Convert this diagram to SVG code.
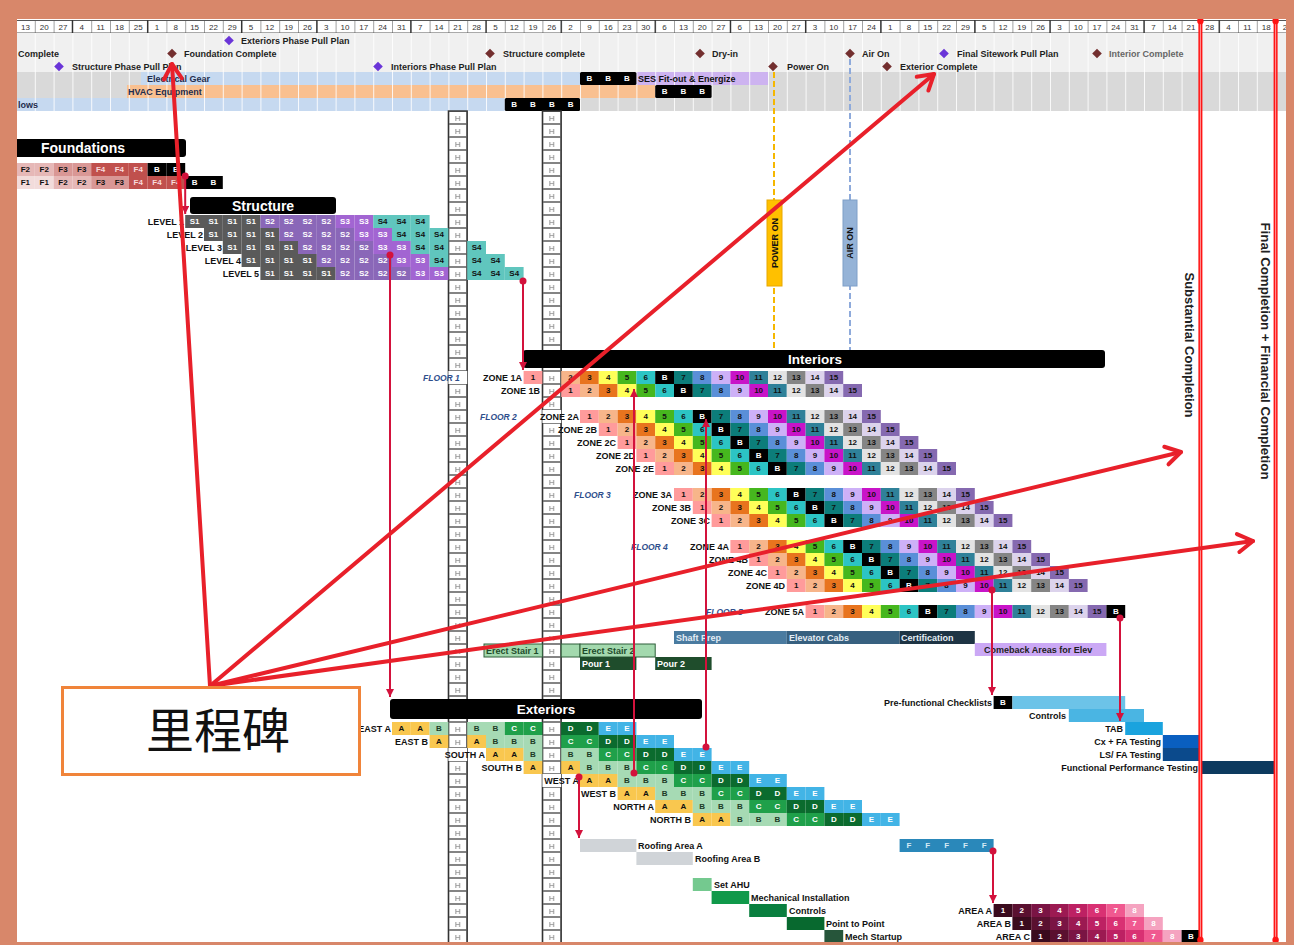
<svg xmlns="http://www.w3.org/2000/svg" width="1294" height="945" viewBox="0 0 1294 945">
<style>
text{font-family:"Liberation Sans",Arial,sans-serif;font-weight:bold}
.ct{font-size:8px;text-anchor:middle;fill:#111}
.cw{font-size:8px;text-anchor:middle;fill:#fff}
.lb{font-size:9px;text-anchor:end;fill:#111}
.ls{font-size:9px;fill:#111}
.ms{font-size:9px;fill:#1e1e1e}
.dt{font-size:8px;font-weight:normal;text-anchor:middle;fill:#333}
.fl{font-size:8.5px;font-style:italic;fill:#2E4E8C}
.bt{font-size:13.5px;fill:#fff;text-anchor:middle}
.dep{stroke:#D3123C;stroke-width:2;fill:none}
.big{stroke:#E8202A;stroke-width:4;fill:none;stroke-linecap:round}
.dot{fill:#D3123C}
.ht{font-size:7.5px;font-weight:normal;text-anchor:middle;fill:#666}
</style>
<defs>
<pattern id="vs" width="18.8" height="10" patternUnits="userSpaceOnUse" x="16" y="0"><rect width="1" height="10" fill="#fff" fill-opacity="0.85"/></pattern>
<pattern id="dg" width="18.8" height="13" patternUnits="userSpaceOnUse" x="16" y="20"><rect width="0.8" height="13" fill="#8a8a8a"/></pattern>
<pattern id="hp" width="18.8" height="13" patternUnits="userSpaceOnUse" x="448.4" y="111"><rect x="0.5" y="0.5" width="17.8" height="12" fill="#fff" stroke="#777" stroke-width="0.9"/><text class="ht" x="9.4" y="9.6">H</text></pattern>
<path id="dm" d="M0,-4.8L4.8,0L0,4.8L-4.8,0Z"/>
<marker id="da" viewBox="0 0 10 10" refX="10" refY="5" markerWidth="8" markerHeight="8" markerUnits="userSpaceOnUse" orient="auto"><path d="M0,0L10,5L0,10Z" fill="#D3123C"/></marker>
<marker id="ah" viewBox="0 0 24 24" refX="20" refY="12" markerWidth="24" markerHeight="24" markerUnits="userSpaceOnUse" orient="auto"><path d="M5,3L20,12L5,21" fill="none" stroke="#E8202A" stroke-width="4" stroke-linecap="round" stroke-linejoin="round"/></marker>
<g id="i1"><rect width="18.8" height="13" fill="#FF9B9B"/><text class="ct" x="9.4" y="9.4">1</text></g>
<g id="i2"><rect width="18.8" height="13" fill="#F7B58A"/><text class="ct" x="9.4" y="9.4">2</text></g>
<g id="i3"><rect width="18.8" height="13" fill="#E8741E"/><text class="ct" x="9.4" y="9.4">3</text></g>
<g id="i4"><rect width="18.8" height="13" fill="#FFFF59"/><text class="ct" x="9.4" y="9.4">4</text></g>
<g id="i5"><rect width="18.8" height="13" fill="#46B71E"/><text class="ct" x="9.4" y="9.4">5</text></g>
<g id="i6"><rect width="18.8" height="13" fill="#2CC4C4"/><text class="ct" x="9.4" y="9.4">6</text></g>
<g id="iB"><rect width="18.8" height="13" fill="#000"/><text class="cw" x="9.4" y="9.4">B</text></g>
<g id="i7"><rect width="18.8" height="13" fill="#0C7D7A"/><text class="ct" x="9.4" y="9.4">7</text></g>
<g id="i8"><rect width="18.8" height="13" fill="#5A8FD8"/><text class="ct" x="9.4" y="9.4">8</text></g>
<g id="i9"><rect width="18.8" height="13" fill="#CDB0F7"/><text class="ct" x="9.4" y="9.4">9</text></g>
<g id="i10"><rect width="18.8" height="13" fill="#C814C8"/><text class="ct" x="9.4" y="9.4">10</text></g>
<g id="i11"><rect width="18.8" height="13" fill="#2F8199"/><text class="ct" x="9.4" y="9.4">11</text></g>
<g id="i12"><rect width="18.8" height="13" fill="#E3E3E3"/><text class="ct" x="9.4" y="9.4">12</text></g>
<g id="i13"><rect width="18.8" height="13" fill="#858585"/><text class="ct" x="9.4" y="9.4">13</text></g>
<g id="i14"><rect width="18.8" height="13" fill="#DCD3EC"/><text class="ct" x="9.4" y="9.4">14</text></g>
<g id="i15"><rect width="18.8" height="13" fill="#8569B0"/><text class="ct" x="9.4" y="9.4">15</text></g>
<g id="iq2">
<use href="#i2"/><use href="#i3" x="18.8"/><use href="#i4" x="37.6"/><use href="#i5" x="56.4"/><use href="#i6" x="75.2"/><use href="#iB" x="94"/><use href="#i7" x="112.8"/><use href="#i8" x="131.6"/><use href="#i9" x="150.4"/><use href="#i10" x="169.2"/><use href="#i11" x="188"/><use href="#i12" x="206.8"/><use href="#i13" x="225.6"/><use href="#i14" x="244.4"/><use href="#i15" x="263.2"/>
</g>
<g id="iq"><use href="#i1"/><use href="#iq2" x="18.8"/></g>
<g id="s1"><rect width="18.8" height="13" fill="#5A5A5A"/><text class="cw" x="9.4" y="9.4">S1</text></g>
<g id="s2"><rect width="18.8" height="13" fill="#8A67B8"/><text class="cw" x="9.4" y="9.4">S2</text></g>
<g id="s3"><rect width="18.8" height="13" fill="#A265D2"/><text class="cw" x="9.4" y="9.4">S3</text></g>
<g id="s4"><rect width="18.8" height="13" fill="#60C6BE"/><text class="ct" x="9.4" y="9.4">S4</text></g>
<g id="s1r"><use href="#s1"/><use href="#s1" x="18.8"/><use href="#s1" x="37.6"/><use href="#s1" x="56.4"/></g>
<g id="s2r"><use href="#s2"/><use href="#s2" x="18.8"/><use href="#s2" x="37.6"/><use href="#s2" x="56.4"/></g>
<g id="s3r"><use href="#s3"/><use href="#s3" x="18.8"/></g>
<g id="f1"><rect width="18.8" height="13" fill="#F2DCDB"/><text class="ct" x="9.4" y="9.4">F1</text></g>
<g id="f2"><rect width="18.8" height="13" fill="#E6B8B7"/><text class="ct" x="9.4" y="9.4">F2</text></g>
<g id="f3"><rect width="18.8" height="13" fill="#D99795"/><text class="ct" x="9.4" y="9.4">F3</text></g>
<g id="f4"><rect width="18.8" height="13" fill="#C0504D"/><text class="ct" x="9.4" y="9.4" style="fill:#F8DADA">F4</text></g>
<g id="fB"><rect width="18.8" height="13" fill="#000"/><text class="cw" x="9.4" y="9.4">B</text></g>
<g id="xa"><rect width="18.8" height="13" fill="#F9C74F"/><text class="ct" x="9.4" y="9.4">A</text></g>
<g id="xb"><rect width="18.8" height="13" fill="#A6DAB4"/><text class="ct" x="9.4" y="9.4" style="fill:#1d3b26">B</text></g>
<g id="xc"><rect width="18.8" height="13" fill="#1FA04A"/><text class="cw" x="9.4" y="9.4">C</text></g>
<g id="xd"><rect width="18.8" height="13" fill="#0B6B2E"/><text class="cw" x="9.4" y="9.4">D</text></g>
<g id="xe"><rect width="18.8" height="13" fill="#42B4E6"/><text class="cw" x="9.4" y="9.4">E</text></g>
<g id="xq"><use href="#xa"/><use href="#xa" x="18.8"/><use href="#xb" x="37.6"/><use href="#xb" x="56.4"/><use href="#xb" x="75.2"/><use href="#xc" x="94"/><use href="#xc" x="112.8"/><use href="#xd" x="131.6"/><use href="#xd" x="150.4"/><use href="#xe" x="169.2"/><use href="#xe" x="188"/></g>
<g id="aq">
<rect width="18.8" height="13" fill="#3A0B1E"/><rect x="18.8" width="18.8" height="13" fill="#5A1030"/><rect x="37.6" width="18.8" height="13" fill="#7A1444"/><rect x="56.4" width="18.8" height="13" fill="#9C1A52"/><rect x="75.2" width="18.8" height="13" fill="#BD2163"/><rect x="94" width="18.8" height="13" fill="#D93173"/><rect x="112.8" width="18.8" height="13" fill="#F05990"/><rect x="131.6" width="18.8" height="13" fill="#F5A3C0"/>
<text class="cw" y="9.4"><tspan x="9.4">1</tspan><tspan x="28.2">2</tspan><tspan x="47">3</tspan><tspan x="65.8">4</tspan><tspan x="84.6">5</tspan><tspan x="103.4">6</tspan><tspan x="122.2">7</tspan><tspan x="141">8</tspan></text>
</g>
</defs>

<rect width="1294" height="945" fill="#fff"/>

<g id="timeline-header">
<rect x="16" y="20" width="1270" height="13" fill="#fff"/>
<rect x="16" y="20" width="1270" height="13" fill="url(#dg)"/>
<path d="M16,20.5H1286M16,33H1286" stroke="#555" stroke-width="1"/>
<path d="M72.4,20V33M147.6,20V33M241.6,20V33M316.8,20V33M410.8,20V33M486,20V33M561.2,20V33M655.2,20V33M730.4,20V33M805.6,20V33M880.8,20V33M974.8,20V33M1050,20V33M1144,20V33M1219.2,20V33M1275.6,20V33" stroke="#333" stroke-width="1.3"/>
<text class="dt" y="30"><tspan x="25.4">13</tspan><tspan x="44.2">20</tspan><tspan x="63">27</tspan><tspan x="81.8">4</tspan><tspan x="100.6">11</tspan><tspan x="119.4">18</tspan><tspan x="138.2">25</tspan><tspan x="157">1</tspan><tspan x="175.8">8</tspan><tspan x="194.6">15</tspan><tspan x="213.4">22</tspan><tspan x="232.2">29</tspan><tspan x="251">5</tspan><tspan x="269.8">12</tspan><tspan x="288.6">19</tspan><tspan x="307.4">26</tspan><tspan x="326.2">3</tspan><tspan x="345">10</tspan><tspan x="363.8">17</tspan><tspan x="382.6">24</tspan><tspan x="401.4">31</tspan><tspan x="420.2">7</tspan><tspan x="439">14</tspan><tspan x="457.8">21</tspan><tspan x="476.6">28</tspan><tspan x="495.4">5</tspan><tspan x="514.2">12</tspan><tspan x="533">19</tspan><tspan x="551.8">26</tspan><tspan x="570.6">2</tspan><tspan x="589.4">9</tspan><tspan x="608.2">16</tspan><tspan x="627">23</tspan><tspan x="645.8">30</tspan><tspan x="664.6">6</tspan><tspan x="683.4">13</tspan><tspan x="702.2">20</tspan><tspan x="721">27</tspan><tspan x="739.8">6</tspan><tspan x="758.6">13</tspan><tspan x="777.4">20</tspan><tspan x="796.2">27</tspan><tspan x="815">3</tspan><tspan x="833.8">10</tspan><tspan x="852.6">17</tspan><tspan x="871.4">24</tspan><tspan x="890.2">1</tspan><tspan x="909">8</tspan><tspan x="927.8">15</tspan><tspan x="946.6">22</tspan><tspan x="965.4">29</tspan><tspan x="984.2">5</tspan><tspan x="1003">12</tspan><tspan x="1021.8">19</tspan><tspan x="1040.6">26</tspan><tspan x="1059.4">3</tspan><tspan x="1078.2">10</tspan><tspan x="1097">17</tspan><tspan x="1115.8">24</tspan><tspan x="1134.6">31</tspan><tspan x="1153.4">7</tspan><tspan x="1172.2">14</tspan><tspan x="1191">21</tspan><tspan x="1209.8">28</tspan><tspan x="1228.6">4</tspan><tspan x="1247.4">11</tspan><tspan x="1266.2">18</tspan><tspan x="1285">2</tspan></text>
<rect x="16" y="33" width="1270" height="39" fill="#F0F0F0"/>
<rect x="16" y="72" width="1270" height="39" fill="#D9D9D9"/>
<rect x="141" y="72" width="439" height="13" fill="#C6D9F0"/>
<rect x="636.4" y="72" width="132" height="13" fill="#CDB3F0"/>
<rect x="127" y="85" width="528.2" height="13" fill="#F9C090"/>
<rect x="16" y="98" width="488.8" height="13" fill="#C6D9F0"/>
<rect x="16" y="33" width="1270" height="78" fill="url(#vs)"/>
</g>

<g id="equipment-rows">
<text class="ls" x="147" y="82" style="fill:#1F2D4D">Electrical Gear</text>
<text class="ls" x="128" y="95" style="fill:#1F2D4D">HVAC Equipment</text>
<text class="ls" x="18" y="108" style="fill:#1F2D4D">lows</text>
<text class="ls" x="638" y="82">SES Fit-out &amp; Energize</text>
<rect x="580" y="72" width="56.4" height="13" rx="1.5" fill="#000"/>
<text class="cw" y="81.4"><tspan x="589.4">B</tspan><tspan x="608.2">B</tspan><tspan x="627">B</tspan></text>
<rect x="655.2" y="85" width="56.4" height="13" rx="1.5" fill="#000"/>
<text class="cw" y="94.4"><tspan x="664.6">B</tspan><tspan x="683.4">B</tspan><tspan x="702.2">B</tspan></text>
<rect x="504.8" y="98" width="75.2" height="13" rx="1.5" fill="#000"/>
<text class="cw" y="107.4"><tspan x="514.2">B</tspan><tspan x="533">B</tspan><tspan x="551.8">B</tspan><tspan x="570.6">B</tspan></text>
</g>

<g id="milestones">
<use href="#dm" x="229" y="40.5" fill="#6A35D8"/><text class="ms" x="241" y="44">Exteriors Phase Pull Plan</text>
<text class="ms" x="18" y="57">Complete</text>
<use href="#dm" x="172" y="53.5" fill="#732F2F"/><text class="ms" x="184" y="57">Foundation Complete</text>
<use href="#dm" x="490" y="53.5" fill="#732F2F"/><text class="ms" x="503" y="57">Structure complete</text>
<use href="#dm" x="700" y="53.5" fill="#732F2F"/><text class="ms" x="712" y="57">Dry-in</text>
<use href="#dm" x="850" y="53.5" fill="#732F2F"/><text class="ms" x="862" y="57">Air On</text>
<use href="#dm" x="944" y="53.5" fill="#6A35D8"/><text class="ms" x="957" y="57">Final Sitework Pull Plan</text>
<use href="#dm" x="1097" y="53.5" fill="#732F2F"/><text class="ms" x="1109" y="57" style="fill:#666">Interior Complete</text>
<use href="#dm" x="59" y="66.5" fill="#6A35D8"/><text class="ms" x="72" y="70">Structure Phase Pull Plan</text>
<use href="#dm" x="378" y="66.5" fill="#6A35D8"/><text class="ms" x="391" y="70">Interiors Phase Pull Plan</text>
<use href="#dm" x="773" y="66.5" fill="#732F2F"/><text class="ms" x="787" y="70">Power On</text>
<use href="#dm" x="887" y="66.5" fill="#732F2F"/><text class="ms" x="900" y="70">Exterior Complete</text>
</g>

<g id="hold-columns">
<rect x="448.4" y="111" width="18.8" height="832" fill="url(#hp)" stroke="#333" stroke-width="1.4"/>
<rect x="542.4" y="111" width="18.8" height="832" fill="url(#hp)" stroke="#333" stroke-width="1.4"/>
</g>

<g id="power-air-on">
<path d="M774,72V350" stroke="#F5B700" stroke-width="2" stroke-dasharray="6 3"/>
<path d="M850,59V350" stroke="#8EAADB" stroke-width="2" stroke-dasharray="6 3"/>
<rect x="767" y="200" width="15" height="86" fill="#FFC000" stroke="#E8A800"/>
<text transform="translate(774.5,243) rotate(-90)" y="3.2" style="font-size:9px;text-anchor:middle;fill:#111">POWER ON</text>
<rect x="843" y="200" width="14" height="86" fill="#95B3D7" stroke="#7F9FC8"/>
<text transform="translate(850,243) rotate(-90)" y="3.2" style="font-size:9px;text-anchor:middle;fill:#111">AIR ON</text>
</g>

<g id="foundations">
<rect x="14" y="139" width="172" height="18" rx="3" fill="#000"/>
<text class="bt" x="83" y="153" style="font-size:14px">Foundations</text>
<use href="#f2" x="16" y="163"/><use href="#f2" x="34.8" y="163"/><use href="#f3" x="53.6" y="163"/><use href="#f3" x="72.4" y="163"/><use href="#f4" x="91.2" y="163"/><use href="#f4" x="110" y="163"/><use href="#f4" x="128.8" y="163"/><use href="#fB" x="147.6" y="163"/><use href="#fB" x="166.4" y="163"/>
<use href="#f1" x="16" y="176"/><use href="#f1" x="34.8" y="176"/><use href="#f2" x="53.6" y="176"/><use href="#f2" x="72.4" y="176"/><use href="#f3" x="91.2" y="176"/><use href="#f3" x="110" y="176"/><use href="#f4" x="128.8" y="176"/><use href="#f4" x="147.6" y="176"/><use href="#f4" x="166.4" y="176"/><use href="#fB" x="185.2" y="176"/><use href="#fB" x="204" y="176"/>
</g>

<g id="structure">
<rect x="190" y="197" width="146" height="17" rx="3" fill="#000"/>
<text class="bt" x="263" y="210.5" style="font-size:14px">Structure</text>
<text class="lb" x="184" y="224.5">LEVEL 1</text>
<use href="#s1r" x="185.2" y="215"/><use href="#s2r" x="260.4" y="215"/><use href="#s3r" x="335.6" y="215"/><use href="#s4" x="373.2" y="215"/><use href="#s4" x="392" y="215"/><use href="#s4" x="410.8" y="215"/>
<text class="lb" x="203" y="237.5">LEVEL 2</text>
<use href="#s1r" x="204" y="228"/><use href="#s2r" x="279.2" y="228"/><use href="#s3r" x="354.4" y="228"/><use href="#s4" x="392" y="228"/><use href="#s4" x="410.8" y="228"/><use href="#s4" x="429.6" y="228"/>
<text class="lb" x="222" y="250.5">LEVEL 3</text>
<use href="#s1r" x="222.8" y="241"/><use href="#s2r" x="298" y="241"/><use href="#s3r" x="373.2" y="241"/><use href="#s4" x="410.8" y="241"/><use href="#s4" x="429.6" y="241"/><use href="#s4" x="467.2" y="241"/>
<text class="lb" x="241" y="263.5">LEVEL 4</text>
<use href="#s1r" x="241.6" y="254"/><use href="#s2r" x="316.8" y="254"/><use href="#s3r" x="392" y="254"/><use href="#s4" x="429.6" y="254"/><use href="#s4" x="467.2" y="254"/><use href="#s4" x="486" y="254"/>
<text class="lb" x="259" y="276.5">LEVEL 5</text>
<use href="#s1r" x="260.4" y="267"/><use href="#s2r" x="335.6" y="267"/><use href="#s3r" x="410.8" y="267"/><use href="#s4" x="467.2" y="267"/><use href="#s4" x="486" y="267"/><use href="#s4" x="504.8" y="267"/>
</g>

<g id="interiors">
<rect x="523" y="350" width="582" height="18" rx="3" fill="#000"/>
<text class="bt" x="815" y="364">Interiors</text>
<rect x="448.4" y="371" width="18.8" height="13" fill="#fff"/>
<text class="fl" x="423" y="380.5">FLOOR 1</text>
<text class="lb" x="522" y="380.5">ZONE 1A</text>
<use href="#i1" x="523.6" y="371"/><use href="#iq2" x="561.2" y="371"/>
<text class="lb" x="540" y="393.5">ZONE 1B</text>
<use href="#iq" x="561.2" y="384"/>
<rect x="542.4" y="410" width="18.8" height="13" fill="#fff"/>
<text class="fl" x="480" y="419.5">FLOOR 2</text>
<text class="lb" x="579" y="419.5">ZONE 2A</text>
<use href="#iq" x="580" y="410"/>
<text class="lb" x="597" y="432.5">ZONE 2B</text>
<use href="#iq" x="598.8" y="423"/>
<text class="lb" x="616" y="445.5">ZONE 2C</text>
<use href="#iq" x="617.6" y="436"/>
<text class="lb" x="635" y="458.5">ZONE 2D</text>
<use href="#iq" x="636.4" y="449"/>
<text class="lb" x="654" y="471.5">ZONE 2E</text>
<use href="#iq" x="655.2" y="462"/>
<text class="fl" x="574" y="497.5">FLOOR 3</text>
<text class="lb" x="672" y="497.5">ZONE 3A</text>
<use href="#iq" x="674" y="488"/>
<text class="lb" x="691" y="510.5">ZONE 3B</text>
<use href="#iq" x="692.8" y="501"/>
<text class="lb" x="710" y="523.5">ZONE 3C</text>
<use href="#iq" x="711.6" y="514"/>
<text class="fl" x="631" y="549.5">FLOOR 4</text>
<text class="lb" x="729" y="549.5">ZONE 4A</text>
<use href="#iq" x="730.4" y="540"/>
<text class="lb" x="748" y="562.5">ZONE 4B</text>
<use href="#iq" x="749.2" y="553"/>
<text class="lb" x="767" y="575.5">ZONE 4C</text>
<use href="#iq" x="768" y="566"/>
<text class="lb" x="785" y="588.5">ZONE 4D</text>
<use href="#iq" x="786.8" y="579"/>
<text class="fl" x="706" y="614.5">FLOOR 5</text>
<text class="lb" x="804" y="614.5">ZONE 5A</text>
<use href="#iq" x="805.6" y="605"/><use href="#iB" x="1106.4" y="605"/>
</g>

<g id="elevator">
<rect x="674" y="631" width="112.8" height="13" fill="#4A7BA0"/>
<rect x="786.8" y="631" width="112.8" height="13" fill="#37607F"/>
<rect x="899.6" y="631" width="75.2" height="13" fill="#1E3444"/>
<text class="ls" x="676" y="640.5" style="fill:#E3EDF5">Shaft Prep</text>
<text class="ls" x="789" y="640.5" style="fill:#E3EDF5">Elevator Cabs</text>
<text class="ls" x="901" y="640.5" style="fill:#E3EDF5">Certification</text>
<rect x="974.8" y="643" width="131.6" height="13" fill="#CBA8F5"/>
<text class="ls" x="984" y="652.5" style="fill:#222">Comeback Areas for Elev</text>
</g>

<g id="stairs">
<rect x="484" y="644" width="58.4" height="13" fill="#A3D9AE" stroke="#2E5E3A" stroke-width="1"/>
<text class="ls" x="486" y="653.5" style="fill:#1D4A2A">Erect Stair 1</text>
<rect x="561.2" y="644" width="18.8" height="13" fill="#A3D9AE" stroke="#2E5E3A" stroke-width="1"/>
<rect x="580" y="644" width="75.2" height="13" fill="#A3D9AE" stroke="#2E5E3A" stroke-width="1"/>
<text class="ls" x="582" y="653.5" style="fill:#1D4A2A">Erect Stair 2</text>
<rect x="580" y="657" width="56.4" height="13" fill="#1F4D2C"/>
<text class="ls" x="582" y="666.5" style="fill:#fff">Pour  1</text>
<rect x="655.2" y="657" width="56.4" height="13" fill="#1F4D2C"/>
<text class="ls" x="657" y="666.5" style="fill:#fff">Pour 2</text>
</g>

<g id="exteriors">
<rect x="390" y="699" width="312" height="20" rx="3" fill="#000"/>
<text class="bt" x="546" y="714">Exteriors</text>
<text class="lb" x="391" y="731.5">EAST A</text>
<use href="#xa" x="392" y="722"/><use href="#xa" x="410.8" y="722"/><use href="#xb" x="429.6" y="722"/><use href="#xb" x="467.2" y="722"/><use href="#xb" x="486" y="722"/><use href="#xc" x="504.8" y="722"/><use href="#xc" x="523.6" y="722"/><use href="#xd" x="561.2" y="722"/><use href="#xd" x="580" y="722"/><use href="#xe" x="598.8" y="722"/><use href="#xe" x="617.6" y="722"/>
<text class="lb" x="428" y="744.5">EAST B</text>
<use href="#xa" x="429.6" y="735"/><use href="#xa" x="467.2" y="735"/><use href="#xb" x="486" y="735"/><use href="#xb" x="504.8" y="735"/><use href="#xb" x="523.6" y="735"/><use href="#xc" x="561.2" y="735"/><use href="#xc" x="580" y="735"/><use href="#xd" x="598.8" y="735"/><use href="#xd" x="617.6" y="735"/><use href="#xe" x="636.4" y="735"/><use href="#xe" x="655.2" y="735"/>
<rect x="448.4" y="748" width="18.8" height="13" fill="#fff"/>
<text class="lb" x="485" y="757.5">SOUTH A</text>
<use href="#xa" x="486" y="748"/><use href="#xa" x="504.8" y="748"/><use href="#xb" x="523.6" y="748"/><use href="#xb" x="561.2" y="748"/><use href="#xb" x="580" y="748"/><use href="#xc" x="598.8" y="748"/><use href="#xc" x="617.6" y="748"/><use href="#xd" x="636.4" y="748"/><use href="#xd" x="655.2" y="748"/><use href="#xe" x="674" y="748"/><use href="#xe" x="692.8" y="748"/>
<text class="lb" x="522" y="770.5">SOUTH B</text>
<use href="#xa" x="523.6" y="761"/><use href="#xa" x="561.2" y="761"/><use href="#xb" x="580" y="761"/><use href="#xb" x="598.8" y="761"/><use href="#xb" x="617.6" y="761"/><use href="#xc" x="636.4" y="761"/><use href="#xc" x="655.2" y="761"/><use href="#xd" x="674" y="761"/><use href="#xd" x="692.8" y="761"/><use href="#xe" x="711.6" y="761"/><use href="#xe" x="730.4" y="761"/>
<rect x="542.4" y="774" width="18.8" height="13" fill="#fff"/>
<text class="lb" x="579" y="783.5">WEST A</text>
<use href="#xq" x="580" y="774"/>
<text class="lb" x="616" y="796.5">WEST B</text>
<use href="#xq" x="617.6" y="787"/>
<text class="lb" x="654" y="809.5">NORTH A</text>
<use href="#xq" x="655.2" y="800"/>
<text class="lb" x="691" y="822.5">NORTH B</text>
<use href="#xq" x="692.8" y="813"/>
</g>

<g id="commissioning">
<text class="lb" x="992" y="705.5">Pre-functional Checklists</text>
<use href="#fB" x="993.6" y="696"/>
<rect x="1012.4" y="696" width="112.8" height="13" fill="#6CC3E8"/>
<text class="lb" x="1066" y="718.5">Controls</text>
<rect x="1068.8" y="709" width="75.2" height="13" fill="#4AB5E3"/>
<text class="lb" x="1123" y="731.5">TAB</text>
<rect x="1125.2" y="722" width="37.6" height="13" fill="#1AA3DE"/>
<text class="lb" x="1161" y="744.5">Cx + FA Testing</text>
<rect x="1162.8" y="735" width="37.6" height="13" fill="#0A5FC0"/>
<text class="lb" x="1161" y="757.5">LS/ FA Testing</text>
<rect x="1162.8" y="748" width="37.6" height="13" fill="#0B4A8C"/>
<text class="lb" x="1198" y="770.5">Functional Performance Testing</text>
<rect x="1200.4" y="761" width="75.2" height="13" fill="#0D3A5F"/>
</g>

<g id="roofing">
<rect x="580" y="839" width="56.4" height="13" fill="#D0D4D8"/>
<text class="ls" x="638" y="848.5">Roofing Area A</text>
<rect x="636.4" y="852" width="56.4" height="13" fill="#D0D4D8"/>
<text class="ls" x="695" y="861.5">Roofing Area B</text>
</g>

<g id="mechanical">
<rect x="692.8" y="878" width="18.8" height="13" fill="#74C98F"/>
<text class="ls" x="714" y="887.5">Set AHU</text>
<rect x="711.6" y="891" width="37.6" height="13" fill="#10994A"/>
<text class="ls" x="751" y="900.5">Mechanical Installation</text>
<rect x="749.2" y="904" width="37.6" height="13" fill="#0A7F3F"/>
<text class="ls" x="789" y="913.5">Controls</text>
<rect x="786.8" y="917" width="37.6" height="13" fill="#08692F"/>
<text class="ls" x="826" y="926.5">Point to Point</text>
<rect x="824.4" y="930" width="18.8" height="13" fill="#26553A"/>
<text class="ls" x="845" y="939.5">Mech Startup</text>
</g>

<g id="finishes-f">
<rect x="899.6" y="839" width="94" height="13" fill="#2A88BA"/>
<text class="ct" y="848.4" style="fill:#D4EAF5"><tspan x="909">F</tspan><tspan x="927.8">F</tspan><tspan x="946.6">F</tspan><tspan x="965.4">F</tspan><tspan x="984.2">F</tspan></text>
</g>

<g id="areas">
<text class="lb" x="992" y="913.5">AREA A</text>
<use href="#aq" x="993.6" y="904"/>
<text class="lb" x="1011" y="926.5">AREA B</text>
<use href="#aq" x="1012.4" y="917"/>
<text class="lb" x="1030" y="939.5">AREA C</text>
<use href="#aq" x="1031.2" y="930"/><use href="#fB" x="1181.6" y="930"/>
</g>

<g id="completion-lines">
<path d="M1200.4,21V940M1275.6,21V940" stroke="#FF1414" stroke-width="4"/>
<path d="M1200.4,21V940M1275.6,21V940" stroke="#FF9A9A" stroke-width="1"/>
<circle cx="1200.4" cy="21" r="3.2" fill="#FF1414"/><circle cx="1275.6" cy="21" r="3.2" fill="#FF1414"/>
<circle cx="1200.4" cy="940" r="3.2" fill="#FF1414"/><circle cx="1275.6" cy="940" r="3.2" fill="#FF1414"/>
<text transform="translate(1189,345) rotate(90)" y="4" textLength="145" lengthAdjust="spacingAndGlyphs" style="font-size:12px;text-anchor:middle;fill:#222">Substantial Completion</text>
<text transform="translate(1265,351) rotate(90)" y="4" textLength="257" lengthAdjust="spacingAndGlyphs" style="font-size:12px;text-anchor:middle;fill:#222">Final Completion + Financial Completion</text>
</g>

<g id="connectors">
<path class="dep" d="M185.2,176V214" marker-end="url(#da)"/><circle class="dot" cx="185.2" cy="176" r="3.5"/>
<path class="dep" d="M390,255V697" marker-end="url(#da)"/><circle class="dot" cx="390" cy="255" r="3.5"/>
<path class="dep" d="M523,281V370" marker-end="url(#da)"/><circle class="dot" cx="523" cy="281" r="3.5"/>
<path class="dep" d="M634,773V389" marker-end="url(#da)"/><circle class="dot" cx="634" cy="773" r="3.5"/>
<path class="dep" d="M706,747V419" marker-end="url(#da)"/><circle class="dot" cx="706" cy="747" r="3.5"/>
<path class="dep" d="M579,777V838" marker-end="url(#da)"/><circle class="dot" cx="579" cy="777" r="3.5"/>
<path class="dep" d="M992,590V695" marker-end="url(#da)"/><circle class="dot" cx="992" cy="590" r="3.5"/>
<path class="dep" d="M1120,618V721" marker-end="url(#da)"/><circle class="dot" cx="1120" cy="618" r="3.5"/>
<path class="dep" d="M993,851V903" marker-end="url(#da)"/><circle class="dot" cx="993" cy="851" r="3.5"/>
</g>

<g id="annotation-arrows">
<path class="big" d="M210,686L172,64" marker-end="url(#ah)"/>
<path class="big" d="M210,686L934,74" marker-end="url(#ah)"/>
<path class="big" d="M210,686L1181,452" marker-end="url(#ah)"/>
<path class="big" d="M210,686L1253,541" marker-end="url(#ah)"/>
</g>

<g id="milestone-label">
<rect x="62.5" y="687.5" width="297" height="87" fill="#fff" stroke="#F0843A" stroke-width="3"/>
<text x="218" y="748" style="font-family:'Noto Sans CJK SC','Noto Sans CJK JP',sans-serif;font-weight:normal;font-size:48px;text-anchor:middle;fill:#111">里程碑</text>
</g>

<g id="frame" fill="#D8876A">
<rect x="0" y="0" width="1294" height="19"/>
<rect x="0" y="0" width="17" height="945"/>
<rect x="1286" y="0" width="8" height="945"/>
<rect x="0" y="942" width="1294" height="3"/>
</g>
</svg>
